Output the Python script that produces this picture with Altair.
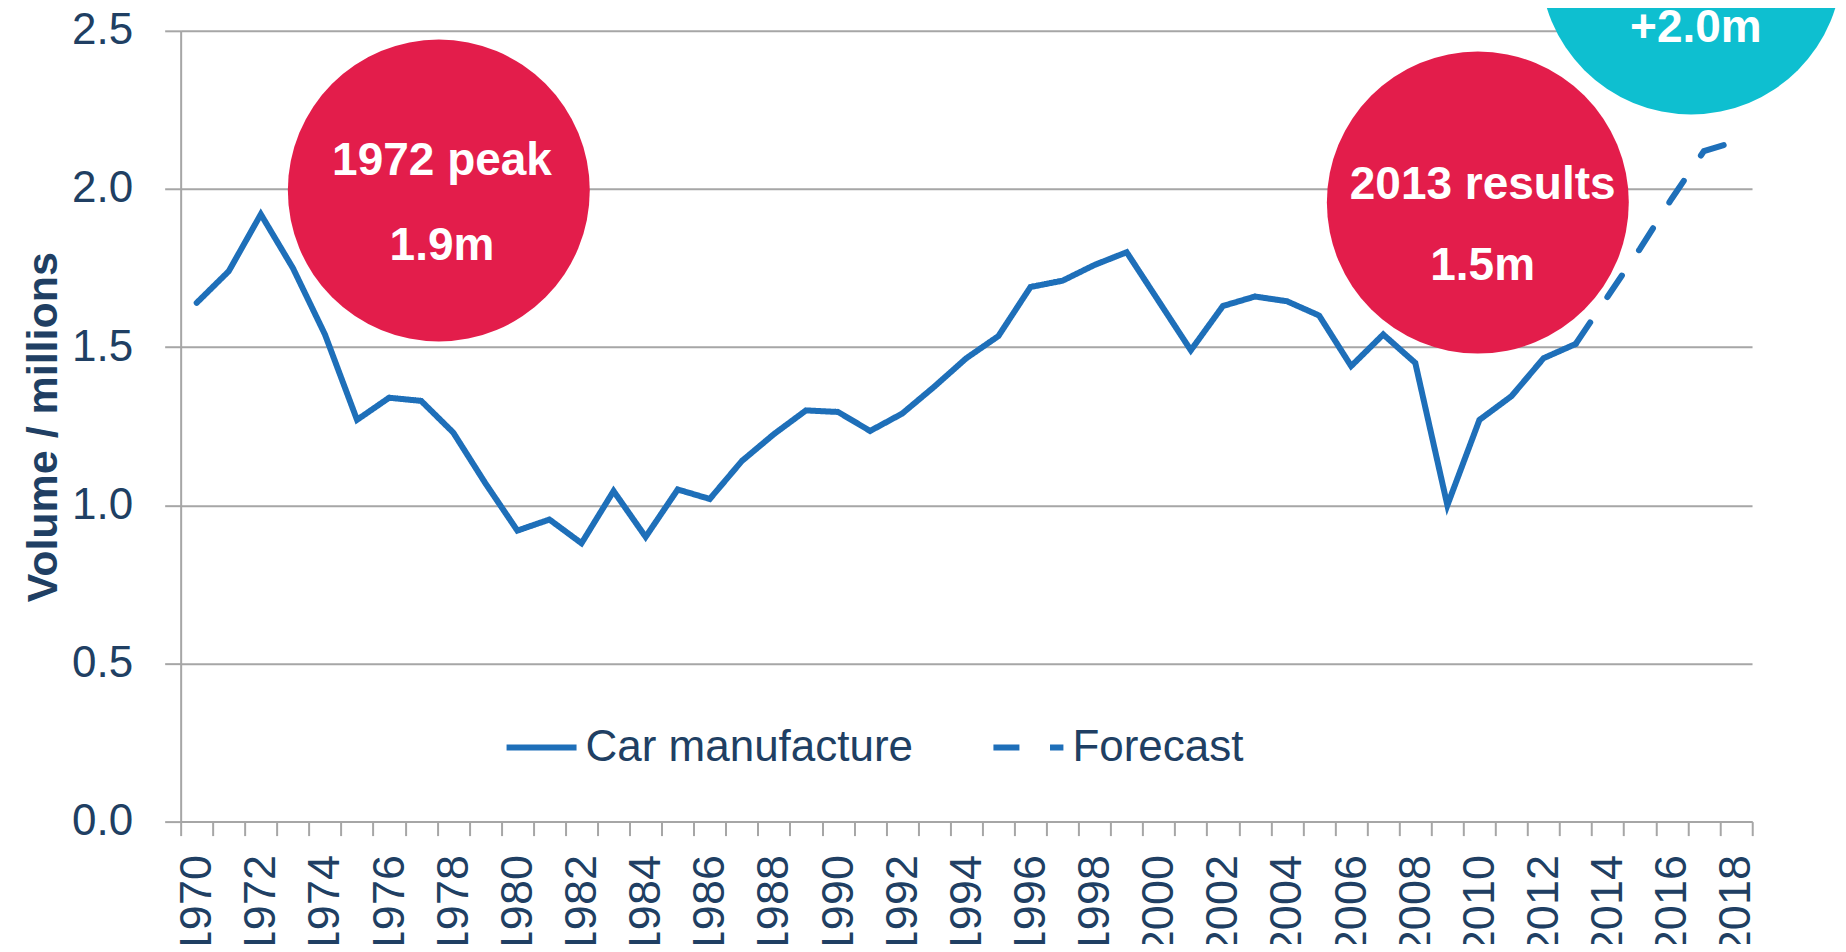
import altair as alt
import pandas as pd

# ---- data ----
years_actual = list(range(1970, 2014))
volume_actual = [1.64, 1.74, 1.92, 1.75, 1.54, 1.27, 1.34, 1.33, 1.23, 1.07,
                 0.92, 0.955, 0.88, 1.045, 0.90, 1.05, 1.02, 1.14, 1.225, 1.30,
                 1.295, 1.235, 1.29, 1.375, 1.465, 1.535, 1.69, 1.71, 1.76, 1.80,
                 1.645, 1.49, 1.63, 1.66, 1.645, 1.60, 1.44, 1.54, 1.45, 1.00,
                 1.27, 1.345, 1.465, 1.51]
years_forecast = [2013, 2014, 2015, 2016, 2017, 2018]
volume_forecast = [1.51, 1.66, 1.81, 1.97, 2.12, 2.15]
series_names = ["Car manufacture", "Forecast"]

# annotation bubbles (centre in data units)
bubble_year = [1977.55, 2009.95, 2016.6]
bubble_value = [1.995, 1.957, 2.713]
bubble_fill = ["#E31D4B", "#E31D4B", "#0EBFD0"]

label_text = ["1972 peak", "1.9m", "2013 results", "1.5m", "+2.0m"]
label_year = [1977.65, 1977.65, 2010.1, 2010.1, 2016.75]
label_value = [2.09, 1.82, 2.012, 1.755, 2.51]

y_ticks = [0.0, 0.5, 1.0, 1.5, 2.0, 2.5]
x_edges = [1969.5 + i for i in range(50)]

# ---- styling ----
BLUE = "#1E6FB9"
NAVY = "#203F63"
GRAY = "#A6A6A6"
FONT = "'Liberation Sans', Arial, sans-serif"

x_scale = alt.Scale(domain=[1969.5, 2018.5], nice=False, zero=False)
y_scale = alt.Scale(domain=[0, 2.5], nice=False, zero=False)

df_line = pd.concat([
    pd.DataFrame({"year": years_actual, "value": volume_actual, "series": series_names[0]}),
    pd.DataFrame({"year": years_forecast, "value": volume_forecast, "series": series_names[1]}),
])
df_bubble = pd.DataFrame({"year": bubble_year, "value": bubble_value, "fill": bubble_fill})
df_text = pd.DataFrame({"year": label_year, "value": label_value, "text": label_text})

x_axis = alt.Axis(
    values=x_edges,
    labelExpr="(datum.value + 0.5) % 2 === 0 ? format(datum.value + 0.5, 'd') : ''",
    labelAngle=270, labelAlign="right", labelBaseline="middle",
    labelOffset=16, labelPadding=19,
    labelFont=FONT, labelFontSize=45, labelColor=NAVY,
    labelOverlap=False, labelFlush=False, labelBound=False,
    tickSize=14, tickWidth=2, tickColor=GRAY,
    domainColor=GRAY, domainWidth=2, grid=False, title=None,
)
y_axis = alt.Axis(
    values=y_ticks, format=".1f",
    grid=True, gridColor=GRAY, gridWidth=2,
    domainColor=GRAY, domainWidth=2,
    tickColor=GRAY, tickWidth=2, tickSize=16,
    labelFont=FONT, labelFontSize=44, labelColor=NAVY, labelPadding=32,
    title="Volume / millions", titleFont=FONT, titleFontWeight="bold",
    titleFontSize=43, titleColor=NAVY, titleX=-124, titleY=396,
    titleAngle=270, titleAlign="center", titleBaseline="alphabetic",
)

bubbles = alt.Chart(df_bubble).mark_circle(size=91204, opacity=1).encode(
    x=alt.X("year:Q", scale=x_scale, axis=x_axis),
    y=alt.Y("value:Q", scale=y_scale, axis=y_axis),
    color=alt.Color("fill:N", scale=None),
)

line = alt.Chart(df_line).mark_line(strokeWidth=6, color=BLUE, strokeCap="round").encode(
    x=alt.X("year:Q", scale=x_scale, axis=x_axis),
    y=alt.Y("value:Q", scale=y_scale, axis=y_axis),
    strokeDash=alt.StrokeDash(
        "series:N",
        scale=alt.Scale(domain=series_names, range=[[1, 0], [26, 30.6]]),
        legend=alt.Legend(
            title=None, orient="none", legendX=323, legendY=679,
            direction="horizontal", symbolType="stroke", symbolSize=4900,
            symbolStrokeWidth=6, symbolStrokeColor=BLUE,
            labelFont=FONT, labelFontSize=44, labelColor=NAVY,
            labelLimit=1000, labelOffset=6, columnPadding=68, padding=0,
        ),
    ),
)

texts = alt.Chart(df_text).mark_text(
    font=FONT, fontWeight="bold", fontSize=46, color="white",
    align="center", baseline="middle",
).encode(
    x=alt.X("year:Q", scale=x_scale, axis=x_axis),
    y=alt.Y("value:Q", scale=y_scale, axis=y_axis),
    text="text:N",
)

chart = alt.layer(bubbles, line, texts).properties(
    width=1571.8, height=791,
    autosize=alt.AutoSizeParams(type="none"),
    padding={"left": 172.7, "top": 22.7, "right": 86, "bottom": 122},
).configure_view(stroke=None)

chart.save("out.html", embed_options={"renderer": "svg", "actions": False})
